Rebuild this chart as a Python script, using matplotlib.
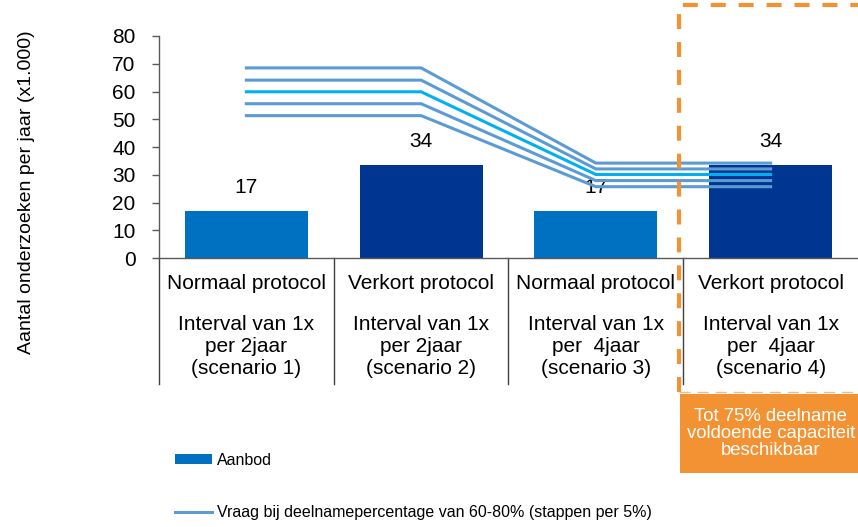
import numpy as np
import matplotlib
matplotlib.use("Agg")
import matplotlib.pyplot as plt
from matplotlib.patches import Rectangle
from matplotlib.lines import Line2D

plt.rcParams['font.family'] = ['Liberation Sans', 'DejaVu Sans']

protocols = ["Normaal protocol", "Verkort protocol", "Normaal protocol", "Verkort protocol"]
details = ["Interval van 1x\nper 2jaar\n(scenario 1)",
           "Interval van 1x\nper 2jaar\n(scenario 2)",
           "Interval van 1x\nper  4jaar\n(scenario 3)",
           "Interval van 1x\nper  4jaar\n(scenario 4)"]
aanbod = [16.8, 33.5, 16.8, 33.5]
bar_colors = ["#0070C0", "#003591", "#0070C0", "#003591"]

# vraag per deelnamepercentage (60..80%)
vraag_60 = [51.3, 51.3, 25.7, 25.7]
vraag_65 = [55.6, 55.6, 27.9, 27.9]
vraag_70 = [59.9, 59.9, 30.1, 30.1]
vraag_75 = [64.1, 64.1, 32.1, 32.1]
vraag_80 = [68.5, 68.5, 34.2, 34.2]
vraag = [vraag_60, vraag_65, vraag_70, vraag_75, vraag_80]
vraag_colors = ["#5B9BD5", "#5B9BD5", "#00B0F0", "#5B9BD5", "#5B9BD5"]

fig = plt.figure(figsize=(8.58, 5.27), dpi=100)
ax = fig.add_axes([0.1853, 0.5104, 0.8147, 0.4213])

x = np.arange(len(protocols))
bars = ax.bar(x, aanbod, width=0.705, color=bar_colors, zorder=2, label="Aanbod")
for xi, v in zip(x, aanbod):
    ax.annotate(f"{v:.0f}", (xi, v), xytext=(0, 17), textcoords="offset points",
                ha="center", va="center", fontsize=15)

line_handle = None
for vals, c in zip(vraag, vraag_colors):
    ln, = ax.plot(x, vals, color=c, lw=2.2, zorder=3, solid_joinstyle="miter")
    if line_handle is None:
        line_handle = ln

ax.set_xlim(-0.5, 3.5)
ax.set_ylim(0, 80)
ax.set_yticks(range(0, 81, 10))
ax.tick_params(axis="y", labelsize=15, length=5, width=1, color="#595959", pad=12)
ax.set_xticks([])
for s in ["top", "right"]:
    ax.spines[s].set_visible(False)
for s in ["left", "bottom"]:
    ax.spines[s].set_color("#595959")
    ax.spines[s].set_linewidth(1)

# category table below the axis
tr = ax.get_xaxis_transform()
for xi, p, d in zip(x, protocols, details):
    ax.text(xi, -0.113, p, transform=tr, ha="center", va="center", fontsize=15)
    ax.text(xi, -0.40, d, transform=tr, ha="center", va="center", fontsize=15,
            linespacing=1.2)
for b in np.arange(-0.5, 3.0, 1.0):
    ax.add_line(Line2D([b, b], [0, -0.568], transform=tr, color="#404040",
                       lw=1, clip_on=False))

ax.set_ylabel("Aantal onderzoeken per jaar (x1.000)", fontsize=14)
ax.yaxis.set_label_coords(-0.177, 0.298)

# highlighted scenario 4
orange = "#F39233"
fig.add_artist(Line2D([0.7914, 0.7914, 1.02], [0.2562, 0.9905, 0.9905],
                      transform=fig.transFigure, color=orange, lw=3,
                      linestyle=(0, (3.6, 3.1)), zorder=5))
fig.add_artist(Line2D([0.7914, 1.0], [0.2562, 0.2562], transform=fig.transFigure,
                      color="#F7B98A", lw=1, linestyle=(0, (8, 5)), zorder=5))
fig.add_artist(Rectangle((0.7925, 0.1025), 0.21, 0.15, transform=fig.transFigure,
                         facecolor=orange, edgecolor="none", zorder=5))
fig.text(0.8985, 0.1775, "Tot 75% deelname\nvoldoende capaciteit\nbeschikbaar",
         ha="center", va="center", color="white", fontsize=13.3, linespacing=1.0,
         zorder=6)

fig.legend([bars, line_handle],
           ["Aanbod", "Vraag bij deelnamepercentage van 60-80% (stappen per 5%)"],
           loc="upper left", bbox_to_anchor=(0.204, 0.141), frameon=False,
           borderaxespad=0, borderpad=0, handletextpad=0.31, labelspacing=2.35,
           handlelength=2.3, handleheight=0.5, prop={"size": 11.5})

fig.savefig("out.png", dpi=100)
